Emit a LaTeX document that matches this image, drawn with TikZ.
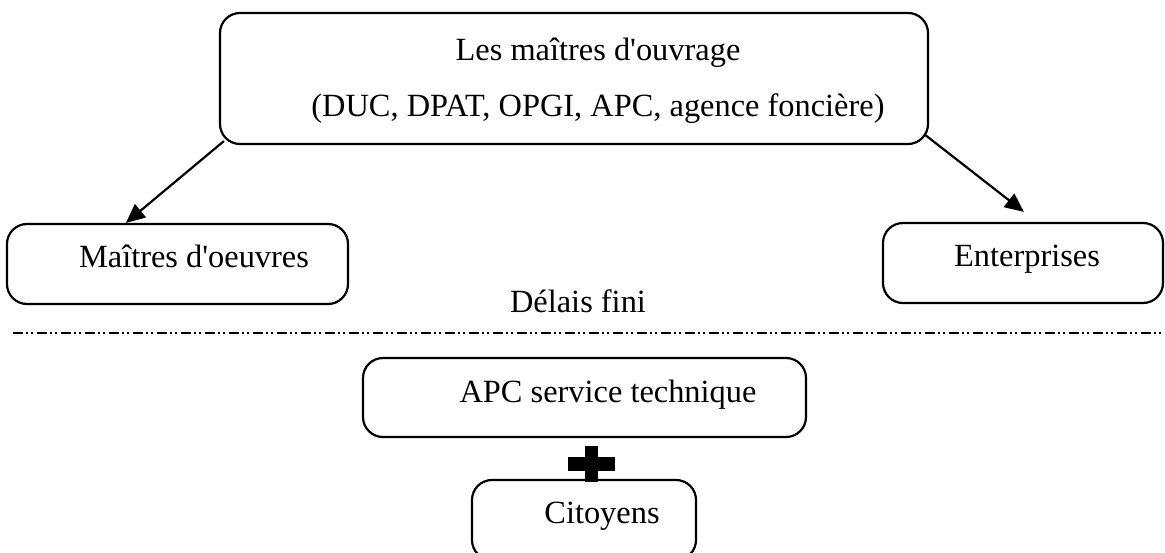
\documentclass[tikz,border=0pt]{standalone}
\usepackage{fontspec}
\setmainfont{Liberation Serif}
\usetikzlibrary{arrows.meta,calc}
\tikzset{
  box/.style={draw=black, line width=2.2pt, rounded corners=20pt, inner sep=0pt},
  lbl/.style={anchor=base, inner sep=0pt, font=\fontsize{32.4}{39}\selectfont},
  conn/.style={line width=2.2pt, -{Triangle[length=19pt,width=17pt]}},
  sep/.style={line width=1.1pt, dash pattern=on 10pt off 3pt on 2pt off 3pt on 2pt off 4pt},
}
\begin{document}
\begin{tikzpicture}[x=1pt,y=-1pt]
\useasboundingbox (0,0) rectangle (1165,553);
\fill[white] (0,0) rectangle (1165,553);
% boxes
\node[box, minimum width=708pt, minimum height=131pt] (mo) at (574,78.5) {};
\node[box, minimum width=341pt, minimum height=80pt] (mw) at (177.5,264) {};
\node[box, minimum width=280pt, minimum height=80pt] (en) at (1023,263) {};
\node[box, minimum width=443pt, minimum height=79pt] (apc) at (584.5,397.5) {};
\node[box, minimum width=224pt, minimum height=80pt] (cit) at (584,520) {};
% texts
\node[lbl] (moA) at (598,61) {Les maîtres d\textquotesingle ouvrage};
\node[lbl] (moB) at (598,117) {(DUC, DPAT, OPGI, APC, agence foncière)};
\node[lbl] (mwT) at (194,268) {Maîtres d\textquotesingle oeuvres};
\node[lbl] (enT) at (1027,267) {Enterprises};
\node[lbl] (del) at (578,313) {Délais fini};
\node[lbl] (apcT) at (608,402) {APC service technique};
\node[lbl] (citT) at (602,523) {Citoyens};
% connectors
\draw[conn] ([xshift=5pt,yshift=4pt]mo.south west) -- ([xshift=120pt]mw.north west);
\draw[conn] ([xshift=-5pt,yshift=11pt]mo.south east) -- ([xshift=142pt,yshift=10pt]en.north west);
% separator
\coordinate (sepL) at (13,333);
\coordinate (sepR) at (1165,333);
\draw[sep] (sepL) -- (sepR);
% plus sign
\fill[black] (568,457) rectangle (615,471);
\fill[black] (585,446) rectangle (598,482);
\end{tikzpicture}
\end{document}
